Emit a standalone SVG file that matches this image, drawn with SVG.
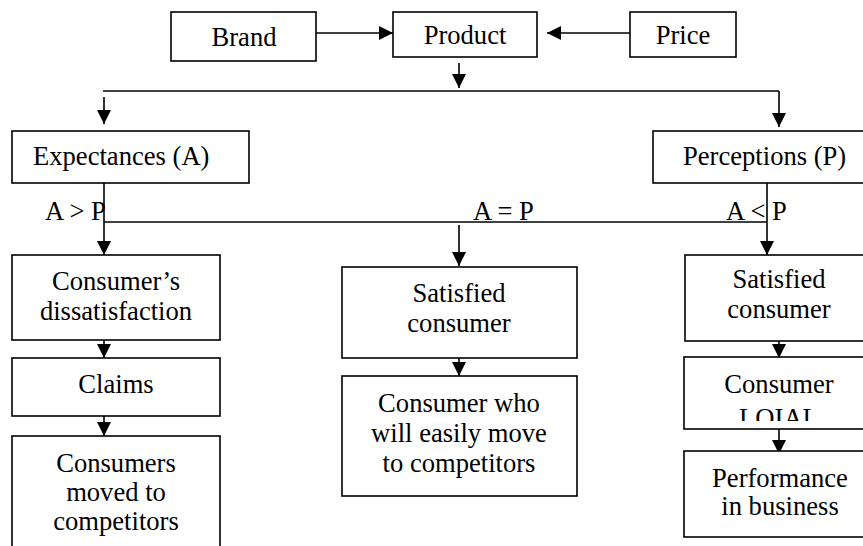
<svg xmlns="http://www.w3.org/2000/svg" width="863" height="546" viewBox="0 0 863 546" font-family="'Liberation Serif', 'Times New Roman', 'DejaVu Serif', serif">
<style>
.box{fill:#fff;stroke:#000;stroke-width:1.6}
.t{font-size:26.6px;fill:#000}
.c{text-anchor:middle}
.ln{fill:none;stroke:#000;stroke-width:1.6}
</style>
<defs>
<marker id="ah" markerUnits="userSpaceOnUse" markerWidth="18" markerHeight="18" viewBox="0 0 18 18" refX="14" refY="9" orient="auto">
<path d="M0,2 L14,9 L0,16 Z" fill="#000"/>
</marker>
<clipPath id="clipLoial"><rect x="684" y="357" width="190" height="64"/></clipPath>
</defs>
<rect width="863" height="546" fill="#fff"/>
<g id="connectors">
<line class="ln" x1="316" y1="33" x2="393" y2="33" marker-end="url(#ah)"/>
<line class="ln" x1="630" y1="33" x2="547" y2="33" marker-end="url(#ah)"/>
<line class="ln" x1="459" y1="63" x2="459" y2="88" marker-end="url(#ah)"/>
<line class="ln" x1="103" y1="91" x2="779" y2="91"/>
<line class="ln" x1="104" y1="97" x2="104" y2="124" marker-end="url(#ah)"/>
<line class="ln" x1="779" y1="91" x2="779" y2="127" marker-end="url(#ah)"/>
<line class="ln" x1="104" y1="183" x2="104" y2="255" marker-end="url(#ah)"/>
<line class="ln" x1="104" y1="222" x2="767" y2="222"/>
<line class="ln" x1="459" y1="225" x2="459" y2="266" marker-end="url(#ah)"/>
<line class="ln" x1="767" y1="183" x2="767" y2="255" marker-end="url(#ah)"/>
<line class="ln" x1="104" y1="340" x2="104" y2="358" marker-end="url(#ah)"/>
<line class="ln" x1="104" y1="416" x2="104" y2="436" marker-end="url(#ah)"/>
<line class="ln" x1="459" y1="358" x2="459" y2="376" marker-end="url(#ah)"/>
<line class="ln" x1="779" y1="341" x2="779" y2="358" marker-end="url(#ah)"/>
<line class="ln" x1="779" y1="429" x2="779" y2="454" marker-end="url(#ah)"/>
</g>
<g id="brand"><rect class="box" x="171" y="12" width="145" height="49"/><text class="t c" x="244" y="46">Brand</text></g>
<g id="product"><rect class="box" x="393" y="12" width="144" height="45"/><text class="t c" x="465" y="44">Product</text></g>
<g id="price"><rect class="box" x="630" y="12" width="106" height="45"/><text class="t c" x="683" y="44">Price</text></g>
<g id="expectances"><rect class="box" x="12" y="131" width="237" height="52"/><text class="t" x="33" y="165">Expectances (A)</text></g>
<g id="perceptions"><rect class="box" x="653" y="131" width="220" height="52"/><text class="t" x="683" y="165">Perceptions (P)</text></g>
<g id="labels">
<text class="t" x="45" y="220">A &gt; P</text>
<text class="t" x="473" y="220">A = P</text>
<text class="t" x="726" y="220">A &lt; P</text>
</g>
<g id="dissatisfaction"><rect class="box" x="12" y="255" width="208" height="85"/><text class="t c" x="116" y="290">Consumer’s</text><text class="t c" x="116" y="320">dissatisfaction</text></g>
<g id="claims"><rect class="box" x="12" y="358" width="208" height="58"/><text class="t c" x="116" y="393">Claims</text></g>
<g id="moved"><rect class="box" x="12" y="436" width="208" height="120"/><text class="t c" x="116" y="472">Consumers</text><text class="t c" x="116" y="501">moved to</text><text class="t c" x="116" y="530">competitors</text></g>
<g id="satisfied-center"><rect class="box" x="342" y="267" width="235" height="91"/><text class="t c" x="459" y="302">Satisfied</text><text class="t c" x="459" y="332">consumer</text></g>
<g id="easily-move"><rect class="box" x="342" y="376" width="235" height="120"/><text class="t c" x="459" y="412">Consumer who</text><text class="t c" x="459" y="442">will easily move</text><text class="t c" x="459" y="472">to competitors</text></g>
<g id="satisfied-right"><rect class="box" x="685" y="255" width="190" height="86"/><text class="t c" x="779" y="288">Satisfied</text><text class="t c" x="779" y="318">consumer</text></g>
<g id="loial"><rect class="box" x="684" y="357" width="190" height="72"/><text class="t c" x="779" y="393">Consumer</text><text class="t c" x="779" y="427" clip-path="url(#clipLoial)">LOIAL</text></g>
<g id="performance"><rect class="box" x="684" y="451" width="190" height="86"/><text class="t c" x="780" y="487">Performance</text><text class="t c" x="780" y="515">in business</text></g>
</svg>
